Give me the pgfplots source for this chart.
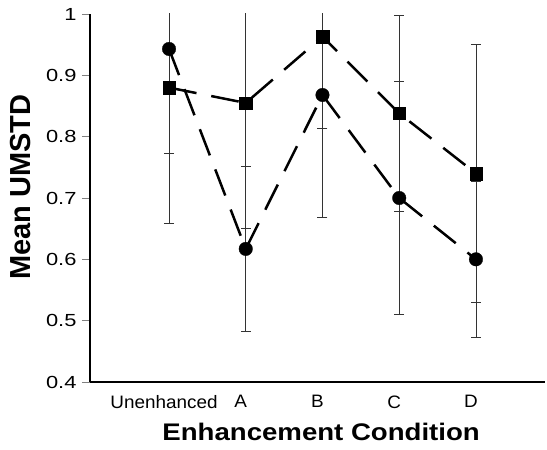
\documentclass[border=0pt]{standalone}
\usepackage{pgfplots}
\pgfplotsset{compat=1.18}
\usepackage{fontspec}
\setmainfont{Liberation Sans}
\newfontfamily\tickfont{Liberation Sans}[FakeStretch=1.05]
\newfontfamily\ytickfont{Liberation Sans}[FakeStretch=1.25]
\newfontfamily\xlabfont{Liberation Sans}[FakeStretch=1.15]
\begin{document}
\begin{tikzpicture}
\begin{axis}[
  name=ax,
  scale only axis,
  width=455bp, height=368bp,
  xmin=-1.03, xmax=4.9,
  ymin=0.4, ymax=1,
  axis x line=bottom, axis y line=left,
  axis line style={-, line width=1.2bp},
  xtick={0,1,2,3,4},
  xticklabels={Unenhanced,A,B,C,D},
  xtick style={draw=none},
  ytick={0.4,0.5,0.6,0.7,0.8,0.9,1},
  yticklabels={0.4,0.5,0.6,0.7,0.8,0.9,1},
  /pgf/number format/assume math mode=true,
  tick align=outside,
  major tick length=8bp,
  ytick style={line width=0.8bp},
  xticklabel style={font=\fontsize{18bp}{20bp}\tickfont, yshift=-2bp, xshift=-5bp},
  yticklabel style={font=\fontsize{17.5bp}{19bp}\ytickfont, xshift=-2bp},
  xlabel={Enhancement Condition},
  ylabel={Mean UMSTD},
  xlabel style={font=\fontsize{24bp}{28bp}\xlabfont\bfseries, at={(axis description cs:0.508,-0.136)}, anchor=center},
  ylabel style={font=\fontsize{29bp}{32bp}\bfseries, at={(axis description cs:-0.152,0.53)}, anchor=center},
  error bars/y dir=both,
  error bars/y explicit,
  error bars/error bar style={solid, line width=0.6bp, black!80},
  error bars/error mark options={solid, rotate=90, mark size=5bp, line width=0.6bp, black!80},
]
\addplot+[black, line width=2.5bp, dash pattern=on 28bp off 15bp,
  mark=*, mark size=6.8bp, mark options={solid, fill=black, line width=0.3bp}]
  table[x=x, y=y, y error=e] {
x y e
0 0.943 0.17
1 0.617 0.135
2 0.868 0.20
3 0.700 0.19
4 0.600 0.127
};
\addplot+[black, line width=2.5bp, dash pattern=on 28bp off 15bp,
  mark=square*, mark size=6.2bp, mark options={solid, fill=black, line width=0.3bp}]
  table[x=x, y=y, y error=e] {
x y e
0 0.880 0.222
1 0.855 0.205
2 0.963 0.15
3 0.838 0.16
4 0.740 0.21
};
\end{axis}
\pgfresetboundingbox
\path ([xshift=-90bp,yshift=-68bp]ax.south west) rectangle ([xshift=2bp,yshift=14bp]ax.north east);
\end{tikzpicture}
\end{document}
